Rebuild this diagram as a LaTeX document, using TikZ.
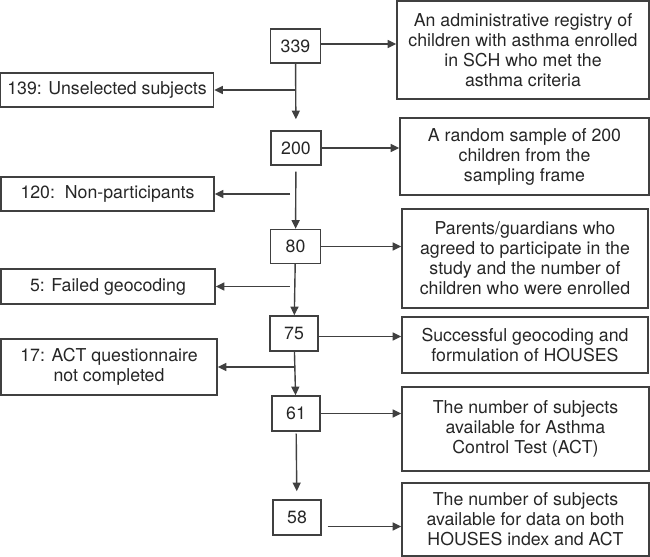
\documentclass[tikz,border=0pt]{standalone}
\usepackage{fontspec}
\setmainfont{TeX Gyre Heros}
\usetikzlibrary{arrows.meta}
\newlength\unitpx
\setlength\unitpx{0.75pt}
\tikzset{
  box/.style={draw=black!75, line width=1.05pt, inner sep=0pt, align=center,
    text=black!85, font=\fontsize{13.3}{15}\selectfont},
  numbox/.style={box, minimum width=50\unitpx, minimum height=34\unitpx},
  flow/.style={->, draw=black!75, line width=1.05pt},
}

\begin{document}
\begin{tikzpicture}[x=0.75pt, y=-0.75pt, >={Triangle[length=6.5pt,width=6pt]}]
        \useasboundingbox (0,0) rectangle (650,557);
        % counts
        \node[numbox] (n339) at (295.5,46) {339};
        \node[numbox] (n200) at (296,148) {200};
        \node[numbox] (n80) at (295.5,246.5) {80};
        \node[numbox, minimum width=48\unitpx, minimum height=35\unitpx] (n75) at (294,333.5) {75};
        \node[numbox, minimum width=48\unitpx, minimum height=35\unitpx] (n61) at (296,413.5) {61};
        \node[numbox, minimum width=48\unitpx, minimum height=35\unitpx] (n58) at (297,517.5) {58};

        % excluded
        \node[box, minimum width=213\unitpx, minimum height=34\unitpx] (l139) at (107,90) {139: Unselected subjects};
        \node[box, minimum width=213\unitpx, minimum height=34\unitpx] (l120) at (107.5,194) {120:\ \ Non-participants};
        \node[box, minimum width=214\unitpx, minimum height=35\unitpx] (l5) at (108,286.5) {5: Failed geocoding};
        \node[box, minimum width=216\unitpx, minimum height=56\unitpx] (l17) at (109,367) {17: ACT questionnaire\\not completed};

        % descriptions
        \node[box, minimum width=252\unitpx, minimum height=98\unitpx] (r1) at (523,50)
            {An administrative registry of\\children with asthma enrolled\\in SCH who met the\\asthma criteria};
        \node[box, minimum width=249\unitpx, minimum height=77\unitpx] (r2) at (524.5,156.5)
            {A random sample of 200\\children from the\\sampling frame};
        \node[box, minimum width=246\unitpx, minimum height=99\unitpx] (r3) at (525,258.5)
            {Parents/guardians who\\agreed to participate in the\\study and the number of\\children who were enrolled};
        \node[box, minimum width=246\unitpx, minimum height=56\unitpx] (r4) at (525,345)
            {Successful geocoding and\\formulation of HOUSES};
        \node[box, minimum width=247\unitpx, minimum height=84\unitpx] (r5) at (525.5,429)
            {The number of subjects\\available for Asthma\\Control Test (ACT)};
        \node[box, minimum width=247\unitpx, minimum height=73\unitpx] (r6) at (525.5,519.5)
            {The number of subjects\\available for data on both\\HOUSES index and ACT};

        % main line
        \draw[flow, shorten >=11\unitpx] (n339) -- (n200);
        \draw[flow, shorten <=6\unitpx] (n200) -- (n80);
        \draw[flow] (n80) -- (n75);
        \draw[flow] (n75) -- (n61);
        \draw[flow, shorten <=2\unitpx, shorten >=8\unitpx] (n61) -- (n58);

        % to the left
        \draw[flow] (n339 |- l139.east) -- (l139.east);
        \draw[flow, shorten <=6\unitpx] (n200 |- l120.east) -- (l120.east);
        \draw[flow, shorten <=6\unitpx] (n80 |- l5.east) -- (l5.east);
        \draw[flow] (n75 |- l17.east) -- (l17.east);

        % to the right
        \draw[flow] ([yshift=2\unitpx]n339.east) -- ([yshift=2\unitpx]n339.east -| r1.west);
        \draw[flow] (n200.east) -- (n200.east -| r2.west);
        \draw[flow] (n80.east) -- (n80.east -| r3.west);
        \draw[flow] ([yshift=-3\unitpx]n75.east) -- ([yshift=-3\unitpx]n75.east -| r4.west);
        \draw[flow] (n61.east) -- (n61.east -| r5.west);
        \draw[flow, shorten <=6\unitpx] ([yshift=-9\unitpx]n58.east) -- ([yshift=-9\unitpx]n58.east -| r6.west);
    \end{tikzpicture}
\end{document}
